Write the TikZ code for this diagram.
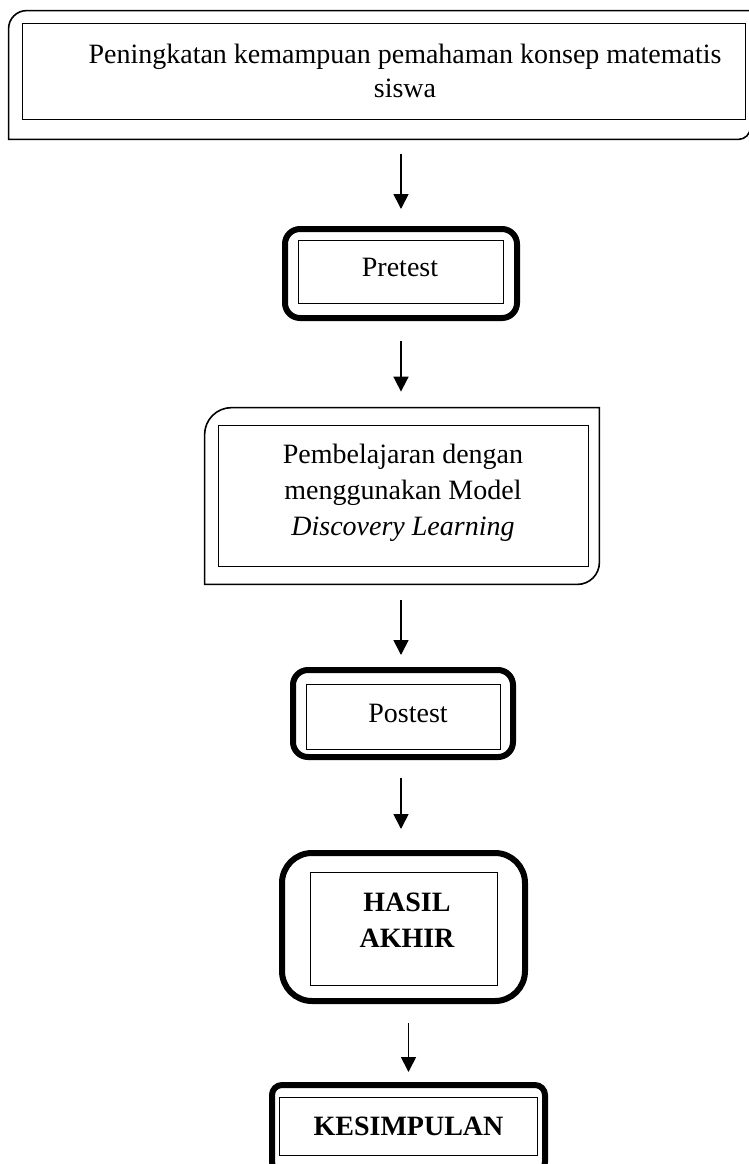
\documentclass[tikz,border=0pt]{standalone}
\usepackage{fontspec}
\setmainfont{Liberation Serif}
\usetikzlibrary{arrows.meta,fit}

\begin{document}
\begin{tikzpicture}[x=0.5pt, y=-0.5pt,
      teks/.style={align=center, inner sep=0pt, font=\fontsize{14}{18}\selectfont},
      dalam/.style={draw, line width=0.5pt, inner sep=0pt},
      luar/.style={inner sep=0pt},
      luartebal/.style={draw, line width=3pt, inner sep=0pt},
      tipis/.style={line width=0.8pt},
      panah/.style={-{Triangle[length=7.5pt, width=7.5pt]}, line width=0.85pt}]

    \useasboundingbox (0,0) rectangle (749,1164);

    % blok atas
    \node[teks, font=\fontsize{14}{17}\selectfont] (tujuan) at (405,70.5) {Peningkatan kemampuan pemahaman konsep matematis\\siswa};
    \node[dalam, fit={(22,23) (745,119)}] (tujuanD) {};
    \node[luar, fit={(9,11) (750,139)}] (tujuanL) {};
    \draw[tipis] (tujuanL.south west) -- ([yshift=-9pt]tujuanL.north west)
      arc[start angle=180, end angle=90, radius=9pt] -- (tujuanL.north east)
      -- ([yshift=6pt]tujuanL.south east) arc[start angle=0, end angle=-90, radius=6pt] -- cycle;

    % pretest
    \node[teks] (pretest) at (400,267.5) {Pretest};
    \node[dalam, fit={(298,240) (503,303)}] (pretestD) {};
    \node[luartebal, rounded corners=7.5pt, fit={(285,229) (517,318)}] (pretestL) {};

    % pembelajaran
    \node[teks] (pembelajaran) at (403,492.7) {Pembelajaran dengan\\menggunakan Model\\\textit{Discovery Learning}};
    \node[dalam, fit={(218,425) (588,566)}] (pembelajaranD) {};
    \node[luar, fit={(205,408) (599,584)}] (pembelajaranL) {};
    \draw[tipis] (pembelajaranL.south west) -- ([yshift=-13.5pt]pembelajaranL.north west)
      arc[start angle=180, end angle=90, radius=13.5pt] -- (pembelajaranL.north east)
      -- ([yshift=11pt]pembelajaranL.south east) arc[start angle=0, end angle=-90, radius=11pt] -- cycle;

    % postest
    \node[teks] (postest) at (408,713.7) {Postest};
    \node[dalam, fit={(306,684) (500,749)}] (postestD) {};
    \node[luartebal, rounded corners=7.5pt, fit={(293,670) (513,757)}] (postestL) {};

    % hasil akhir
    \node[teks, font=\fontsize{14}{18}\selectfont\bfseries] (hasil) at (407,920.5) {HASIL\\AKHIR};
    \node[dalam, fit={(310,872) (497,985)}] (hasilD) {};
    \node[luartebal, rounded corners=15pt, fit={(282,853) (525,1001)}] (hasilL) {};

    % kesimpulan
    \node[teks, font=\fontsize{14}{18}\selectfont\bfseries] (kesimpulan) at (408.5,1126.5) {KESIMPULAN};
    \node[dalam, fit={(279,1097) (537,1155)}] (kesimpulanD) {};
    \node[luartebal, rounded corners=5pt, fit={(272,1085) (545,1172)}] (kesimpulanL) {};

    \draw[panah, shorten <=7.5pt, shorten >=8.5pt] (tujuanL.south -| pretestL.north) -- (pretestL.north);
    \draw[panah, shorten <=10pt, shorten >=8pt] (pretestL.south) -- (pretestL.south |- pembelajaranL.north);
    \draw[panah, shorten <=8pt, shorten >=6pt] (pembelajaranL.south -| pretestL.south) -- (pretestL.south |- postestL.north);
    \draw[panah, shorten <=9pt, shorten >=10.5pt] (postestL.south -| pretestL.south) -- (pretestL.south |- hasilL.north);
    \draw[panah, shorten <=9.5pt, shorten >=5pt] (hasilL.south -| kesimpulanL.north) -- (kesimpulanL.north);
  \end{tikzpicture}
\end{document}
